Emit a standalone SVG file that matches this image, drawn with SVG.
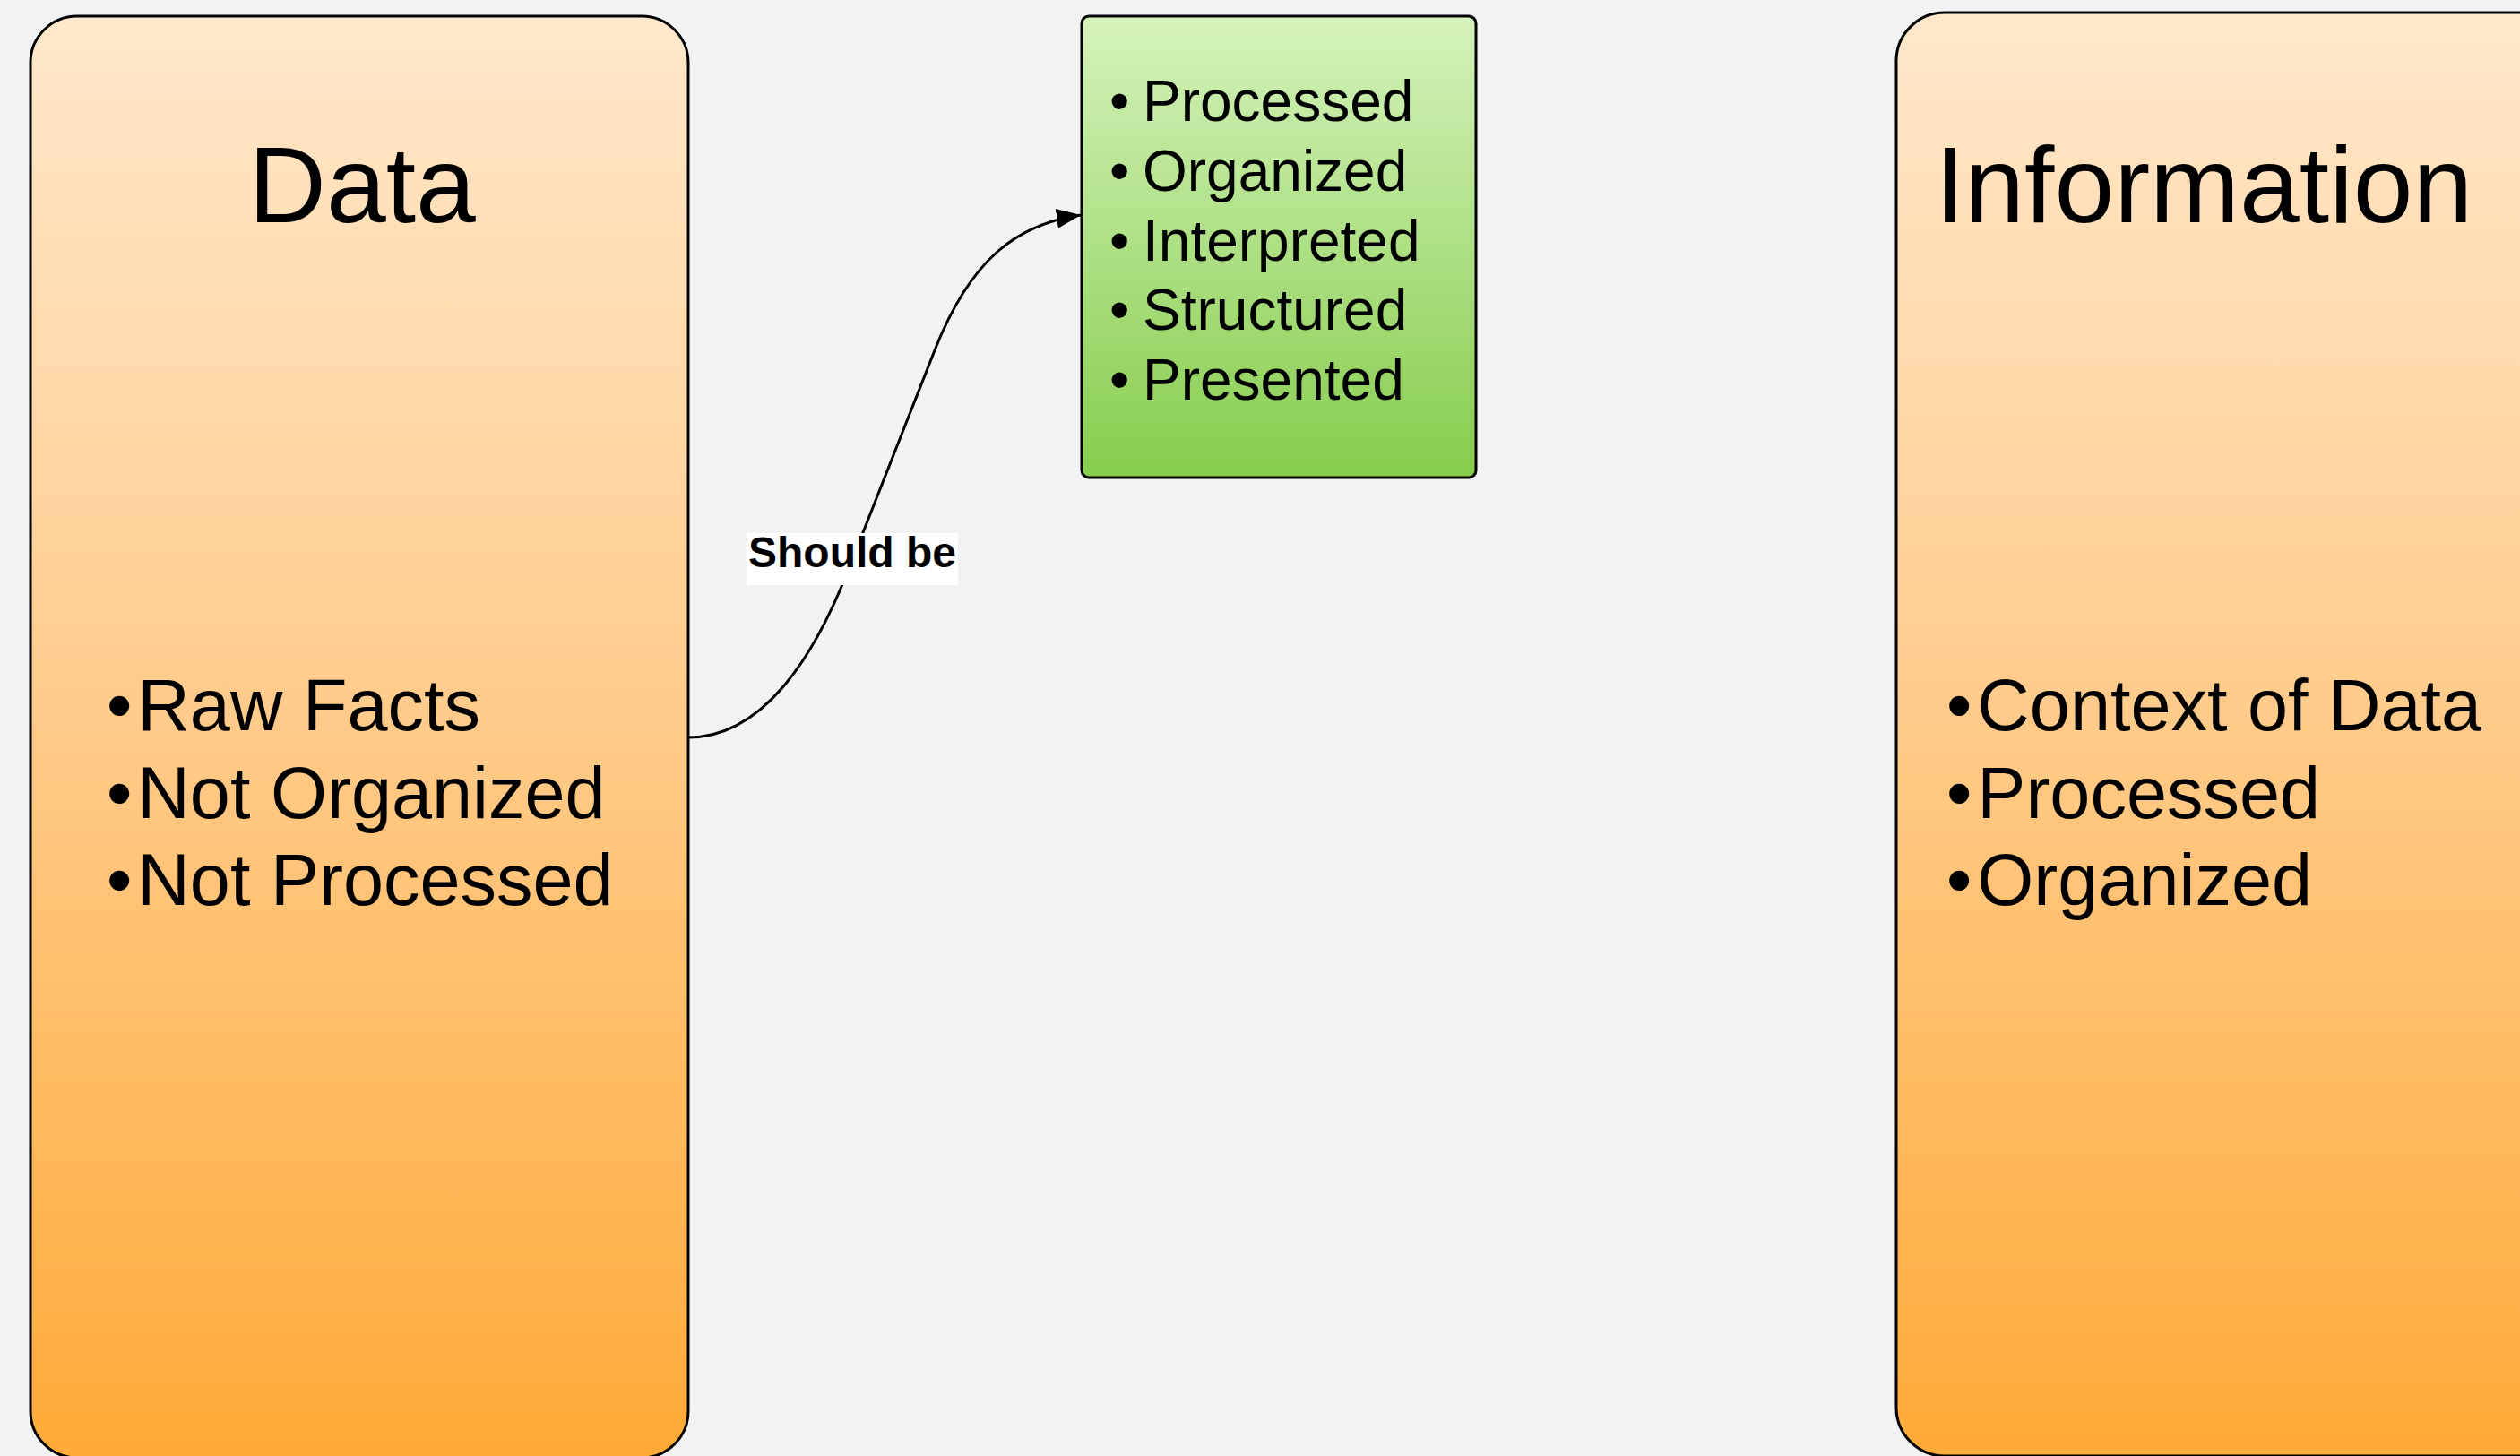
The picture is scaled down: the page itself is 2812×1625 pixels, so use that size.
<svg xmlns="http://www.w3.org/2000/svg" width="2812" height="1625" viewBox="0 0 2812 1625">
  <defs>
    <linearGradient id="orangeFill" x1="0" y1="0" x2="0" y2="1">
      <stop offset="0" stop-color="#FFE8CC"/>
      <stop offset="0.5" stop-color="#FFCA88"/>
      <stop offset="1" stop-color="#FFAA38"/>
    </linearGradient>
    <linearGradient id="greenFill" x1="0" y1="0" x2="0" y2="1">
      <stop offset="0" stop-color="#D5F2BB"/>
      <stop offset="1" stop-color="#86CD4D"/>
    </linearGradient>
    <marker id="arrowHead" markerUnits="userSpaceOnUse" markerWidth="30" markerHeight="24" refX="27" refY="11" orient="auto">
      <path d="M0,0 L27,11 L0,22 z" fill="#000"/>
    </marker>
  </defs>
  <style>
    .panel { fill: url(#orangeFill); stroke: #000; stroke-width: 3; }
    .list-box { fill: url(#greenFill); stroke: #000; stroke-width: 3; }
    .title { font-family: "Liberation Sans", Arial, sans-serif; font-size: 120px; fill: #000; }
    .bullets { font-family: "Liberation Sans", Arial, sans-serif; font-size: 81px; fill: #000; }
    .steps { font-family: "Liberation Sans", Arial, sans-serif; font-size: 64px; fill: #000; }
    .link { fill: none; stroke: #000; stroke-width: 3; }
    .link-label { font-family: "Liberation Sans", Arial, sans-serif; font-size: 48px; font-weight: bold; fill: #000; }
  </style>

  <rect x="0" y="0" width="2812" height="1625" fill="#F2F2F2"/>

  <!-- Connectors -->
  <g id="connectors">
    <path class="link" d="M768,823 C850,823 907,736 945,640 L1043,391 C1083,289 1135,250 1206,240" marker-end="url(#arrowHead)"/>
    <rect x="833" y="595" width="236" height="58" fill="#FFFFFF"/>
    <text class="link-label" x="951" y="633" text-anchor="middle">Should be</text>
  </g>

  <!-- Data panel -->
  <g id="data">
    <rect class="panel" x="34" y="18" width="734" height="1609" rx="52" ry="52"/>
    <text class="title" x="404" y="248" text-anchor="middle">Data</text>
    <text class="bullets" x="119" y="815">•<tspan dx="6">Raw Facts</tspan></text>
    <text class="bullets" x="119" y="913">•<tspan dx="6">Not Organized</tspan></text>
    <text class="bullets" x="119" y="1010">•<tspan dx="6">Not Processed</tspan></text>
  </g>

  <!-- Processing steps -->
  <g id="steps">
    <rect class="list-box" x="1207" y="18" width="440" height="515" rx="8" ry="8"/>
    <g class="steps">
      <text x="1238" y="135">•</text><text x="1275" y="135">Processed</text>
      <text x="1238" y="213">•</text><text x="1275" y="213">Organized</text>
      <text x="1238" y="291">•</text><text x="1275" y="291">Interpreted</text>
      <text x="1238" y="368">•</text><text x="1275" y="368">Structured</text>
      <text x="1238" y="446">•</text><text x="1275" y="446">Presented</text>
    </g>
  </g>

  <!-- Information panel -->
  <g id="information">
    <rect class="panel" x="2116" y="14" width="800" height="1611" rx="54" ry="54"/>
    <text class="title" x="2159" y="248">Information</text>
    <text class="bullets" x="2172" y="815">•<tspan dx="6">Context of Data</tspan></text>
    <text class="bullets" x="2172" y="913">•<tspan dx="6">Processed</tspan></text>
    <text class="bullets" x="2172" y="1010">•<tspan dx="6">Organized</tspan></text>
  </g>
</svg>
